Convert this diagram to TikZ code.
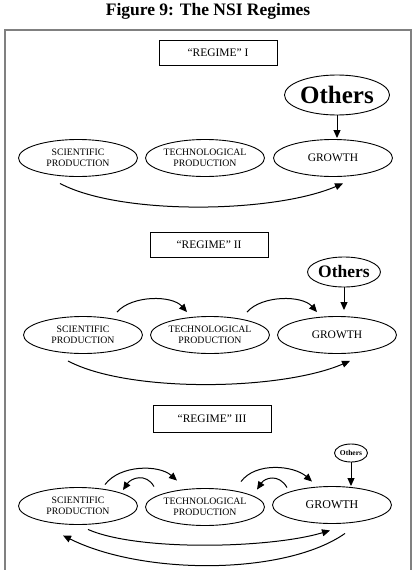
\documentclass[tikz,border=0pt]{standalone}
\usepackage{fontspec}
\setmainfont{Liberation Serif}
\usetikzlibrary{positioning,shapes.geometric,arrows.meta,calc}

\tikzset{
	blob/.style={ellipse,draw,line width=0.9pt,inner sep=0pt,minimum width=119pt,minimum height=37pt,align=center,font=\fontsize{9.8}{11}\selectfont},
	others/.style={ellipse,draw,line width=0.9pt,inner sep=0pt,font=\bfseries},
	regimebox/.style={draw,line width=0.9pt,minimum width=118pt,minimum height=25pt,font=\fontsize{11.5}{13}\selectfont},
	flow/.style={line width=1pt,-{Triangle[length=8pt,width=7pt]}},
}

\begin{document}
\begin{tikzpicture}[x=1pt,y=-1pt]
	\useasboundingbox (0,0) rectangle (416,570);
	\clip (0,0) rectangle (416,570);
	\node[anchor=base,font=\fontsize{17.5}{20}\selectfont\bfseries] (title) at (208,15){Figure 9: The NSI Regimes};
	\draw[gray,line width=1.3pt] (5,580) -- (5,30) -- (411,30) -- (411,580);

		\node[regimebox] (reg1) at (218,52.5){“REGIME” I};
		\node[others,minimum width=105pt,minimum height=40pt,font=\fontsize{25}{26}\selectfont\bfseries] (oth1) at (337,95){Others};
		\node[blob] (sci1) at (78,158){SCIENTIFIC\\PRODUCTION};
		\node[blob] (tec1) at (205,158){TECHNOLOGICAL\\PRODUCTION};
		\node[blob,font=\fontsize{11.5}{13}\selectfont] (gro1) at (333,158){GROWTH};
	\draw[flow,shorten >=1pt] (oth1.south) -- (oth1.south |- gro1.north);
	\draw[flow] ($(sci1.south)+(-18,6.5)$) .. controls +(60,32) and +(-70,30) .. ($(gro1.south)+(10,6.5)$);

		\node[regimebox] (reg2) at (209,244.5){“REGIME” II};
		\node[others,minimum width=56pt,minimum height=30pt,font=\fontsize{17.5}{19}\selectfont\bfseries] (oth2) at (344,272){Others};
		\node[blob] (sci2) at (83,335){SCIENTIFIC\\PRODUCTION};
		\node[blob] (tec2) at (210,335){TECHNOLOGICAL\\PRODUCTION};
		\node[blob,font=\fontsize{11.5}{13}\selectfont] (gro2) at (337,335){GROWTH};
	\draw[flow,shorten >=6pt] (oth2.south) -- (oth2.south |- gro2.north);
	\draw[flow] ($(sci2.north)+(34,-4)$) .. controls +(15,-17) and +(-15,-17) .. ($(tec2.north)+(-23,-4)$);
	\draw[flow] ($(tec2.north)+(37,-4)$) .. controls +(15,-17) and +(-15,-17) .. ($(gro2.north)+(-20,-4)$);
	\draw[flow] ($(sci2.south)+(-15,7)$) .. controls +(60,32) and +(-70,30) .. ($(gro2.south)+(13,7)$);

		\node[regimebox,minimum height=27pt] (reg3) at (212,418.5){“REGIME” III};
		\node[others,minimum width=33pt,minimum height=18pt,font=\fontsize{7.5}{8}\selectfont\bfseries] (oth3) at (351,453){Others};
		\node[blob] (sci3) at (78,506){SCIENTIFIC\\PRODUCTION};
		\node[blob] (tec3) at (205,507){TECHNOLOGICAL\\PRODUCTION};
		\node[blob,font=\fontsize{12}{13}\selectfont] (gro3) at (332,505){GROWTH};
	\draw[flow] (oth3.south) -- (oth3.south |- gro3.north);
	\draw[flow] ($(sci3.north)+(27,-2.5)$) .. controls +(15,-20) and +(-18,-16) .. ($(tec3.north)+(-28,-7.5)$);
	\draw[flow] ($(tec3.north)+(-51,-1.5)$) .. controls +(-8,-14) and +(8,-12) .. ($(sci3.north)+(45,3)$);
	\draw[flow] ($(tec3.north)+(36,-6.5)$) .. controls +(15,-20) and +(-18,-16) .. ($(gro3.north)+(-20,-4.5)$);
	\draw[flow] ($(gro3.north)+(-45,1.5)$) .. controls +(-8,-14) and +(8,-12) .. ($(tec3.north)+(52,1.5)$);
	\draw[flow] ($(sci3.south)+(10,4.5)$) .. controls +(50,22) and +(-60,18) .. ($(gro3.south)+(-2,6.5)$);
	\draw[flow] ($(gro3.south)+(13,9.5)$) .. controls +(-60,42) and +(80,40) .. ($(sci3.south)+(-15,10.5)$);

\end{tikzpicture}
\end{document}
